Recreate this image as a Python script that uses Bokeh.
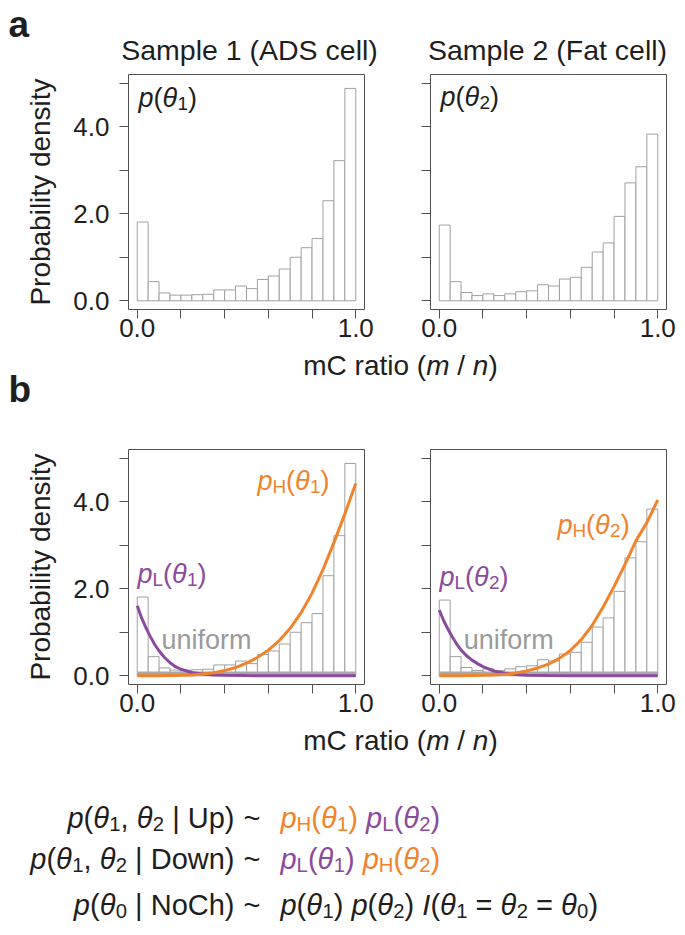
from bokeh.plotting import figure
from bokeh.models import Range1d, FixedTicker, CustomJSTickFormatter
from bokeh.layouts import column, row
from bokeh.core.properties import value
from bokeh.embed import file_html
from bokeh.resources import INLINE

# ---------------- data ----------------
bin_edges = [0.0, 0.05, 0.10, 0.15, 0.20, 0.25, 0.30, 0.35, 0.40, 0.45, 0.50,
             0.55, 0.60, 0.65, 0.70, 0.75, 0.80, 0.85, 0.90, 0.95, 1.0]
hist_sample1 = [1.81, 0.44, 0.18, 0.13, 0.13, 0.14, 0.15, 0.25, 0.25, 0.34,
                0.28, 0.49, 0.57, 0.73, 1.00, 1.22, 1.43, 2.30, 3.22, 4.88]
hist_sample2 = [1.74, 0.44, 0.19, 0.12, 0.16, 0.12, 0.16, 0.21, 0.23, 0.37,
                0.34, 0.50, 0.54, 0.77, 1.12, 1.33, 1.94, 2.71, 3.08, 3.83]

pL_x = [0.0, 0.02, 0.04, 0.06, 0.08, 0.10, 0.125, 0.15, 0.175, 0.20, 0.25, 0.30,
        0.35, 0.40, 0.50, 0.60, 0.80, 1.0]
pL_theta1 = [1.61, 1.33, 1.10, 0.90, 0.72, 0.57, 0.42, 0.30, 0.21, 0.15, 0.075, 0.04,
             0.02, 0.01, 0.004, 0.002, 0.0, 0.0]
pL_theta2 = [1.51, 1.27, 1.07, 0.89, 0.73, 0.59, 0.46, 0.36, 0.28, 0.21, 0.11, 0.06,
             0.03, 0.015, 0.005, 0.002, 0.0, 0.0]

pH_x = [0.0, 0.10, 0.20, 0.25, 0.30, 0.35, 0.40, 0.45, 0.50, 0.55, 0.60, 0.65,
        0.70, 0.75, 0.80, 0.85, 0.90, 0.95, 1.0]
pH_theta1 = [0.0, 0.002, 0.01, 0.02, 0.04, 0.07, 0.12, 0.19, 0.29, 0.42, 0.59, 0.81,
             1.09, 1.45, 1.90, 2.44, 3.06, 3.72, 4.42]
pH_theta2 = [0.0, 0.003, 0.01, 0.02, 0.035, 0.065, 0.11, 0.18, 0.27, 0.40, 0.58, 0.83,
             1.16, 1.58, 2.05, 2.56, 3.10, 3.52, 4.04]

uniform_x = [0.0, 1.0]
uniform_y = [0.05, 0.05]

y_ticks = [0, 1, 2, 3, 4, 5]
x_ticks = [0.0, 0.2, 0.4, 0.6, 0.8, 1.0]

titles = ["Sample 1 (ADS cell)", "Sample 2 (Fat cell)"]
ylabel = "Probability density"

# ---------------- style ----------------
FONT = "Liberation Sans"
INK = "#1e1e1e"
FRAME = "#505050"
BAR = "#a0a0a0"
ORANGE = "#F0842C"
PURPLE = "#8C4A9E"
GRAY = "#9a9a9a"
ULINE = "#a8a8a8"
NB = "\u00a0"

XR = (-0.04, 1.04)
YR = (-0.2, 5.2)
FW, FH = 236, 235
KX = (XR[1] - XR[0]) / FW
KY = (YR[1] - YR[0]) / FH
BASE_COMP = 0.28   # raise so that the alphabetic baseline lands where intended

W = {' ': 278, NB: 278, '(': 333, ')': 333, ',': 278, '|': 260, '~': 584, '=': 584,
     '/': 278, '.': 278, 'p': 556, 'm': 833, 'n': 556, 'a': 556, 't': 278, 'i': 222,
     'o': 556, 'r': 333, 'u': 556, 'f': 278, 'e': 556, 'c': 500, 'l': 222, 'h': 556,
     'w': 722, 'y': 500, 'd': 556, 's': 500, 'b': 556, 'U': 722, 'D': 722, 'N': 722,
     'C': 722, 'H': 722, 'L': 556, 'I': 278, 'S': 667, 'A': 667, 'F': 611, 'θ': 556}


def tw(s):
    return sum(W.get(c, 556) for c in s) / 1000.0


def rich(fig, x, y, segs, size, kx=1.0, ky=1.0, align="left"):
    total = sum(tw(t) * size * f for (t, f, st, sb, col) in segs)
    if align == "right":
        x = x - total * kx
    elif align == "center":
        x = x - total * kx / 2
    y = y + BASE_COMP * size * ky
    for (t, f, st, sb, col) in segs:
        fs = size * f
        yy = y - (0.2 * size * ky if sb else 0.0)
        fig.text(x=[x], y=[yy], text=[t], text_font=value(FONT),
                 text_font_size=f"{fs:.1f}px", text_font_style=st,
                 text_color=col, text_align="left", text_baseline="alphabetic")
        x += tw(t) * fs * kx


def seg(t, col=INK, st="normal"):
    return (t.replace(" ", NB), 1.0, st, False, col)


def it(t, col=INK):
    return seg(t, col, "italic")


def sub(t, col=INK):
    return (t, 0.7, "normal", True, col)


def pfun(s, k, col=INK):
    out = [it("p", col)]
    if s:
        out.append(sub(s, col))
    out += [seg("(", col), it("θ", col), sub(k, col), seg(")", col)]
    return out


def panel(width, height, bl, br, bt, bb, ylabels):
    p = figure(width=width, height=height, x_range=Range1d(*XR), y_range=Range1d(*YR),
               output_backend="svg", toolbar_location=None, title=None,
               min_border_left=bl, min_border_right=br, min_border_top=bt,
               min_border_bottom=bb)
    p.grid.visible = False
    p.outline_line_color = FRAME
    p.outline_line_width = 1
    p.background_fill_color = "white"
    p.border_fill_color = "white"
    for ax in (p.xaxis[0], p.yaxis[0]):
        ax.axis_line_color = None
        ax.major_tick_out = 9
        ax.major_tick_in = 0
        ax.minor_tick_line_color = None
        ax.major_tick_line_color = FRAME
        ax.major_label_text_font = FONT
        ax.major_label_text_font_size = "26px"
        ax.major_label_text_color = INK
    p.xaxis.ticker = FixedTicker(ticks=x_ticks)
    p.yaxis.ticker = FixedTicker(ticks=y_ticks)
    p.xaxis.formatter = CustomJSTickFormatter(
        code="return (Math.abs(tick) < 1e-9 || Math.abs(tick - 1) < 1e-9) ? tick.toFixed(1) : '';")
    if ylabels:
        p.yaxis.formatter = CustomJSTickFormatter(
            code="return (Math.round(tick) % 2 == 0) ? tick.toFixed(1) : '';")
        p.yaxis.axis_label = ylabel
        p.yaxis.axis_label_text_font = FONT
        p.yaxis.axis_label_text_font_size = "28px"
        p.yaxis.axis_label_text_font_style = "normal"
        p.yaxis.axis_label_text_color = INK
        p.yaxis.axis_label_standoff = 14
    else:
        p.yaxis.formatter = CustomJSTickFormatter(code="return '';")
    p.xaxis.major_label_standoff = 0
    p.yaxis.major_label_standoff = 10
    return p


def strip(width, height):
    s = figure(width=width, height=height, x_range=Range1d(0, width),
               y_range=Range1d(0, height), output_backend="svg", toolbar_location=None,
               title=None, x_axis_location=None, y_axis_location=None, min_border=0)
    s.grid.visible = False
    s.outline_line_color = None
    s.background_fill_color = "white"
    s.border_fill_color = "white"
    return s


def hist(p, vals):
    p.quad(left=bin_edges[:-1], right=bin_edges[1:], bottom=0, top=vals,
           fill_color="white", line_color=BAR, line_width=1)


TOTAL_W = 684

# ---------------- header: panel letter a and sample titles ----------------
top = strip(TOTAL_W, 68)                 # page y 0..68
rich(top, 8, 68 - 34, [seg("a", INK, "bold")], 37)
rich(top, 249, 68 - 57, [seg(titles[0])], 28.5, align="center")
rich(top, 547, 68 - 57, [seg(titles[1])], 28.5, align="center")

# ---------------- row a (page y 68..347) ----------------
a1 = panel(398, 279, 128, 34, 6, 38, True)
a2 = panel(286, 279, 32, 18, 6, 38, False)
hist(a1, hist_sample1)
hist(a2, hist_sample2)
rich(a1, 0.006, 4.49, pfun(None, "1"), 27, KX, KY)
rich(a2, 0.006, 4.51, pfun(None, "2"), 27, KX, KY)

# ---------------- x label (a) and panel letter b (page y 347..409) ----------------
xlabel_segs = [seg("mC ratio ("), it("m"), seg(" / "), it("n"), seg(")")]
s1 = strip(TOTAL_W, 62)
rich(s1, 400, 409 - 372.5, xlabel_segs, 28, align="center")
rich(s1, 8, 409 - 399, [seg("b", INK, "bold")], 37)

# ---------------- row b (page y 409..722) ----------------
b1 = panel(398, 313, 128, 34, 40, 38, True)
b2 = panel(286, 313, 32, 18, 40, 38, False)
for p, hv, pl, ph in ((b1, hist_sample1, pL_theta1, pH_theta1),
                      (b2, hist_sample2, pL_theta2, pH_theta2)):
    hist(p, hv)
    p.line(uniform_x, uniform_y, line_color=ULINE, line_width=4)
    p.line(pL_x, pl, line_color=PURPLE, line_width=3)
    p.line(pH_x, ph, line_color=ORANGE, line_width=3)

rich(b1, 0.550, 4.30, pfun("H", "1", ORANGE), 27, KX, KY)
rich(b1, 0.001, 2.16, pfun("L", "1", PURPLE), 27, KX, KY)
rich(b1, 0.111, 0.66, [seg("uniform", GRAY)], 27, KX, KY)
rich(b2, 0.541, 3.30, pfun("H", "2", ORANGE), 27, KX, KY)
rich(b2, 0.001, 2.09, pfun("L", "2", PURPLE), 27, KX, KY)
rich(b2, 0.112, 0.66, [seg("uniform", GRAY)], 27, KX, KY)

# ---------------- x label (b) and model formulas (page y 722..930) ----------------
s2 = strip(TOTAL_W, 208)
rich(s2, 400, 930 - 748, xlabel_segs, 28, align="center")

FS = 29
XL, XT, XRt = 234, 243, 280
left1 = [it("p"), seg("("), it("θ"), sub("1"), seg(", "), it("θ"), sub("2"), seg(" | Up)")]
left2 = [it("p"), seg("("), it("θ"), sub("1"), seg(", "), it("θ"), sub("2"), seg(" | Down)")]
left3 = [it("p"), seg("("), it("θ"), sub("0"), seg(" | NoCh)")]
right1 = pfun("H", "1", ORANGE) + [seg(" ")] + pfun("L", "2", PURPLE)
right2 = pfun("L", "1", PURPLE) + [seg(" ")] + pfun("H", "2", ORANGE)
right3 = (pfun(None, "1") + [seg(" ")] + pfun(None, "2") + [seg(" ")] +
          [it("I"), seg("("), it("θ"), sub("1"), seg(" = "), it("θ"), sub("2"),
           seg(" = "), it("θ"), sub("0"), seg(")")])

for yb, lft, rgt in ((826, left1, right1), (867, left2, right2), (913, left3, right3)):
    rich(s2, XL, 930 - yb, lft, FS, align="right")
    rich(s2, XT, 930 - yb, [seg("~")], FS)
    rich(s2, XRt, 930 - yb, rgt, FS)

layout = column(top, row(a1, a2), s1, row(b1, b2), s2)
open("out.html", "w").write(file_html(layout, INLINE))
